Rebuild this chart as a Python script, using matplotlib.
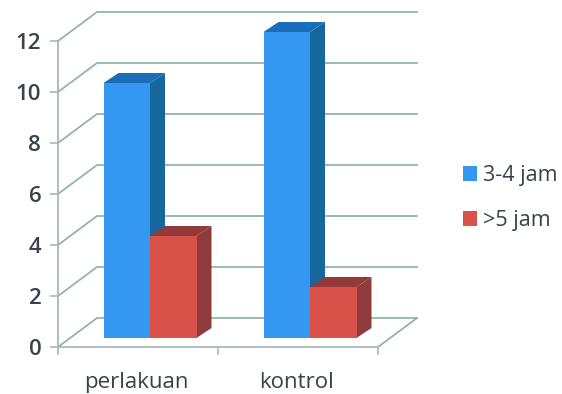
#3D style clustered bar chart, drawn with plain 2D patches
import matplotlib
matplotlib.use('Agg')
import matplotlib.pyplot as plt
from matplotlib.patches import Polygon

categories = ['perlakuan', 'kontrol']
series_names = ['3-4 jam', '>5 jam']
jam_34 = [10, 12]
jam_5 = [4, 2]
yticks = [0, 2, 4, 6, 8, 10, 12]

plt.rcParams['font.family'] = ['Open Sans', 'DejaVu Sans']

W, H = 562, 394
fig = plt.figure(figsize=(W/100, H/100), dpi=100)
#axes box = front plane of the chart, in pixels of the picture
x0, x1, y0, y12 = 58, 378, 347, 41
ax = fig.add_axes([x0/W, 1-y0/H, (x1-x0)/W, (y0-y12)/H])
ax.set_xlim(0, 2)
ax.set_ylim(0, 12)
px = 2/(x1-x0)      #one pixel in x units
py = 12/(y0-y12)    #one pixel in y units

grid = '#8FB5AC'
text_col = '#38424C'

#-----------------------walls and floor------------------------------------#
wx, wy = 39*px, 29*py
for v in yticks:
    ax.plot([0, wx, 2+wx], [v, v+wy, v+wy], color=grid, lw=1.3, clip_on=False, zorder=1)
ax.plot([2, 2+wx], [0, wy], color=grid, lw=1.3, clip_on=False, zorder=1)

for s in ['top', 'right']:
    ax.spines[s].set_visible(False)
for s in ['left', 'bottom']:
    ax.spines[s].set_color('#A9B9B5')
    ax.spines[s].set_linewidth(1.3)
ax.patch.set_visible(False)

ax.set_yticks(yticks)
ax.set_xticks([0, 1, 2])
ax.set_xticklabels([])
ax.tick_params(axis='both', color='#A9B9B5', width=1.2, length=6)
ax.tick_params(axis='y', labelsize=16, labelcolor=text_col, pad=6)
for t in ax.get_yticklabels():
    t.set_fontweight('semibold')

#-----------------------bars-----------------------------------------------#
bw = 46.5*px
dx, dy = 15*px, 10*py
shift_x, base = 12*px, 9*py

def draw_bars(xpos, vals, face, side, top, label):
    b = ax.bar(xpos, vals, width=bw, bottom=base, color=face, label=label,
               clip_on=False, zorder=3, linewidth=0)
    for x, v in zip(xpos, vals):
        l, r, t = x-bw/2, x+bw/2, base+v
        ax.add_patch(Polygon([(r, base), (r+dx, base+dy), (r+dx, t+dy), (r, t)],
                             color=side, lw=0, clip_on=False, zorder=2.5))
        ax.add_patch(Polygon([(l, t), (l+dx, t+dy), (r+dx, t+dy), (r, t)],
                             color=top, lw=0, clip_on=False, zorder=2.5))
    return b

centres = [i+0.5+shift_x for i in range(len(categories))]
draw_bars([c-bw/2 for c in centres], jam_34, '#3497F2', '#17679F', '#1A6DB8', series_names[0])
draw_bars([c+bw/2 for c in centres], jam_5, '#D9524A', '#8F3A3C', '#93393A', series_names[1])

#-----------------------labels and legend----------------------------------#
for i, c in enumerate(categories):
    ax.text(i+0.5-1.5*px, -1.38, c, ha='center', va='center', fontsize=16, color=text_col, clip_on=False)

ax.legend(loc='center left', bbox_to_anchor=(463/W, 1-198/H), bbox_transform=fig.transFigure,
          frameon=False, fontsize=15.5, labelcolor=text_col, handlelength=0.65, handleheight=0.65,
          handletextpad=0.3, labelspacing=1.12, borderpad=0, borderaxespad=0)

fig.savefig('out.png', dpi=100)
